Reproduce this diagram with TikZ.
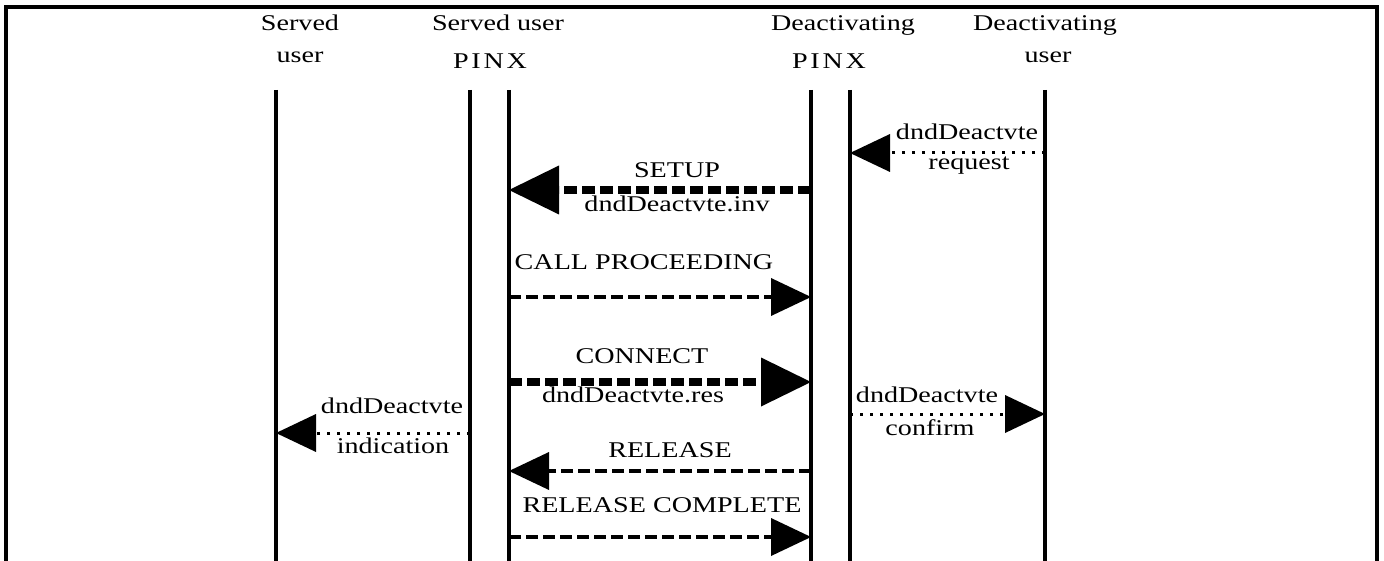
\documentclass[tikz,border=0pt]{standalone}
\usepackage{fontspec}
\setmainfont[FakeStretch=1.25]{Liberation Serif}
\usetikzlibrary{arrows.meta, calc}
\tikzset{
    my-frame/.style={
      line width=4pt, line join=miter
    },
    my-lifeline/.style={
      line width=4pt
    },
    my-label/.style={
      anchor=base, inner sep=0pt, font=\fontsize{22.5}{27}\selectfont
    },
    my-pinx/.style={
      my-label, font=\fontsize{22.5}{27}\selectfont\addfontfeature{LetterSpace=12}
    },
    my-big-msg/.style={
      line width=8pt, dash pattern=on 13pt off 5pt,
      -{Triangle[length=50pt, width=49pt, line width=0pt]}
    },
    my-msg/.style={
      line width=4.5pt, dash pattern=on 12pt off 5pt,
      -{Triangle[length=40pt, width=38pt, line width=0pt]}
    },
    my-prim/.style={
      line width=3pt, dash pattern=on 3pt off 7pt,
      -{Triangle[length=40pt, width=38pt, line width=0pt]}
    },
}
\begin{document}
\begin{tikzpicture}[x=1pt, y=-1pt]

        \useasboundingbox (0,0) rectangle (1384,561);

        % FRAME
        \draw[my-frame] (6,561) -- (6,7) -- (1377,7) -- (1377,561);

        % HEADINGS
        \node[my-label] (SUHEAD1)  at (300,31)  {Served};
        \node[my-label] (SUHEAD2)  at (300,63)  {user};
        \node[my-label] (SPHEAD1)  at (498,31)  {Served user};
        \node[my-pinx]  (SPHEAD2)  at (490,69)  {PINX};
        \node[my-label] (DPHEAD1)  at (843,31)  {Deactivating};
        \node[my-pinx]  (DPHEAD2)  at (829,69)  {PINX};
        \node[my-label] (DUHEAD1)  at (1045,31) {Deactivating};
        \node[my-label] (DUHEAD2)  at (1048,63) {user};

        % LIFELINES
        \coordinate (SU)  at (276,90);
        \coordinate (SPA) at (470,90);
        \coordinate (SPB) at (509,90);
        \coordinate (DPA) at (811,90);
        \coordinate (DPB) at (850,90);
        \coordinate (DU)  at (1045,90);
        \coordinate (BOT) at (0,561);
        \foreach \line in {SU, SPA, SPB, DPA, DPB, DU}
          \draw[my-lifeline] (\line) -- (\line |- BOT);

        % MESSAGE LEVELS
        \coordinate (MREQ)  at (0,153);
        \coordinate (MSET)  at (0,190);
        \coordinate (MCALL) at (0,297);
        \coordinate (MCON)  at (0,382);
        \coordinate (MCONF) at (0,414);
        \coordinate (MIND)  at (0,433);
        \coordinate (MREL)  at (0,471);
        \coordinate (MRLC)  at (0,537);

        % DEACTIVATION REQUEST
        \draw[my-prim] (DU |- MREQ) -- (DPB |- MREQ);
        \node[my-label] (REQ1) at ($(MREQ) + (967,-13)$) {dndDeactvte};
        \node[my-label] (REQ2) at ($(MREQ) + (969,17)$)  {request};

        % SETUP
        \draw[my-big-msg] (DPA |- MSET) -- (SPB |- MSET);
        \node[my-label] (SET1) at ($(MSET) + (677,-12)$) {SETUP};
        \node[my-label] (SET2) at ($(MSET) + (677,22)$)  {dndDeactvte.inv};

        % CALL PROCEEDING
        \draw[my-msg] (SPB |- MCALL) -- (DPA |- MCALL);
        \node[my-label] (CALL1) at ($(MCALL) + (644,-27)$) {CALL PROCEEDING};

        % CONNECT
        \draw[my-big-msg] (SPB |- MCON) -- (DPA |- MCON);
        \node[my-label] (CON1) at ($(MCON) + (642,-19)$) {CONNECT};
        \node[my-label] (CON2) at ($(MCON) + (633,20)$)  {dndDeactvte.res};

        % CONFIRMATION
        \draw[my-prim] (DPB |- MCONF) -- (DU |- MCONF);
        \node[my-label] (CONF1) at ($(MCONF) + (927,-12)$) {dndDeactvte};
        \node[my-label] (CONF2) at ($(MCONF) + (930,21)$)  {confirm};

        % INDICATION
        \draw[my-prim] (SPA |- MIND) -- (SU |- MIND);
        \node[my-label] (IND1) at ($(MIND) + (392,-20)$) {dndDeactvte};
        \node[my-label] (IND2) at ($(MIND) + (393,20)$)  {indication};

        % RELEASE
        \draw[my-msg] (DPA |- MREL) -- (SPB |- MREL);
        \node[my-label] (REL1) at ($(MREL) + (670,-14)$) {RELEASE};

        % RELEASE COMPLETE
        \draw[my-msg] (SPB |- MRLC) -- (DPA |- MRLC);
        \node[my-label] (RLC1) at ($(MRLC) + (662,-25)$) {RELEASE COMPLETE};

\end{tikzpicture}
\end{document}
